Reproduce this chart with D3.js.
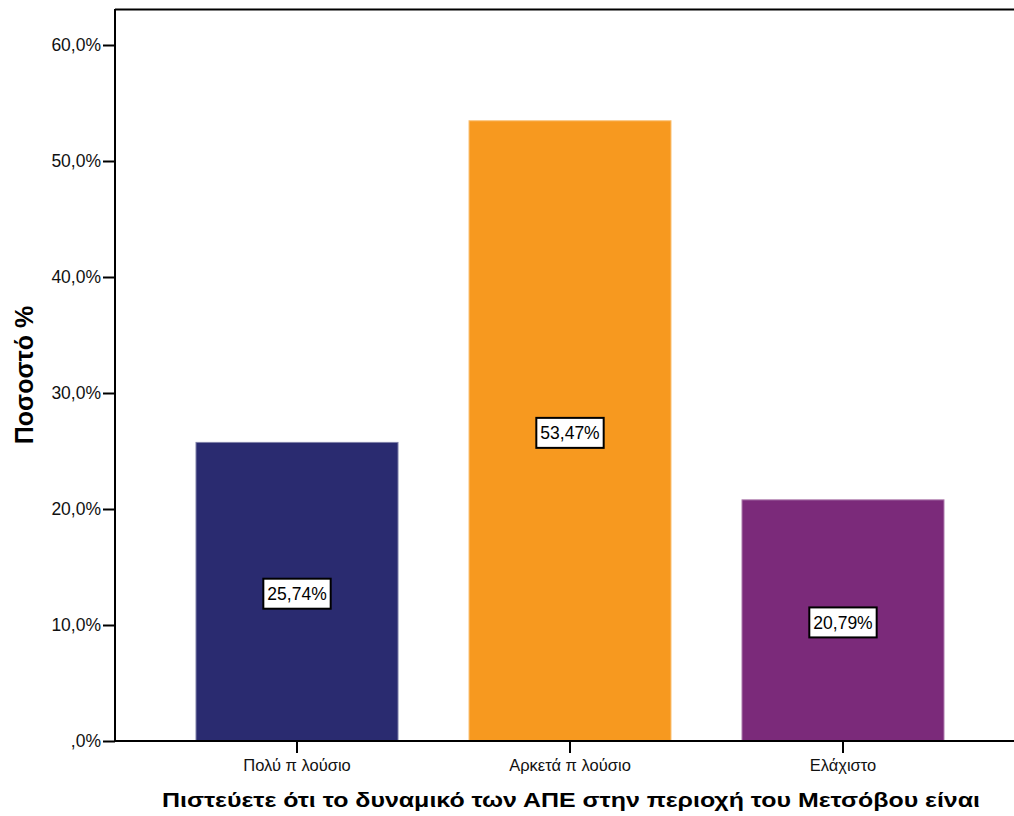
<!DOCTYPE html>
<html>
<head>
<meta charset="utf-8">
<script src="https://cdn.jsdelivr.net/npm/d3@7"></script>
<style>
  html, body { margin: 0; padding: 0; background: #fff; }
  svg { display: block; font-family: "Liberation Sans", Arial, sans-serif; }
</style>
</head>
<body>
<svg id="chart" width="1014" height="816"></svg>
<script>
// Responses: "Το δυναμικό των ΑΠΕ στην περιοχή του Μετσόβου"
const categories = ["Πολύ π λούσιο", "Αρκετά π λούσιο", "Ελάχιστο"];
const percents = [25.74, 53.47, 20.79];
const barColors = ["#2a2b70", "#f7991f", "#7b2a7a"];
const yTicks = [0, 10, 20, 30, 40, 50, 60];
const yTitle = "Ποσοστό %";
const xTitle = "Πιστεύετε ότι το δυναμικό των ΑΠΕ στην περιοχή του Μετσόβου είναι";

const fmtTick = v => (v === 0 ? ",0%" : d3.format(".1f")(v).replace(".", ",") + "%");
const fmtLabel = v => d3.format(".2f")(v).replace(".", ",") + "%";

const svg = d3.select("#chart");
const plot = { left: 115, right: 1025, top: 9, bottom: 741 };

const x = d3.scaleBand()
  .domain(categories)
  .range([plot.left, plot.right])
  .paddingInner(0.26)
  .paddingOuter(0.2967);

const y = d3.scaleLinear()
  .domain([0, 60])
  .range([plot.bottom, 45]);

// frame: top edge
svg.append("line")
  .attr("x1", plot.left).attr("x2", plot.right)
  .attr("y1", plot.top + 0.5).attr("y2", plot.top + 0.5)
  .attr("stroke", "#000").attr("stroke-width", 2);

// bars
svg.append("g").selectAll("rect")
  .data(percents)
  .join("rect")
  .attr("x", (d, i) => x(categories[i]))
  .attr("y", d => y(d))
  .attr("width", x.bandwidth())
  .attr("height", d => y(0) - y(d))
  .attr("fill", (d, i) => barColors[i])
  .attr("stroke", (d, i) => d3.interpolateRgb(barColors[i], "#fff")(0.4))
  .attr("stroke-width", 1);

// y axis
const yAxis = svg.append("g")
  .attr("transform", `translate(${plot.left},0)`)
  .call(d3.axisLeft(y).tickValues(yTicks).tickFormat(fmtTick).tickSize(12).tickPadding(2));
yAxis.select(".domain").attr("d", `M0,${plot.top}V${plot.bottom}`).attr("stroke-width", 2);
yAxis.selectAll(".tick line").attr("stroke-width", 2);
yAxis.selectAll(".tick text")
  .attr("font-size", 17.5).attr("font-family", "Liberation Sans, Arial, sans-serif").attr("fill", "#111");

// x axis
const xAxis = svg.append("g")
  .attr("transform", `translate(0,${plot.bottom})`)
  .call(d3.axisBottom(x).tickSize(12).tickPadding(6));
xAxis.select(".domain").attr("d", `M${plot.left},0H${plot.right}`).attr("stroke-width", 2);
xAxis.selectAll(".tick line").attr("stroke-width", 2);
xAxis.selectAll(".tick text")
  .attr("font-size", 16.5).attr("font-family", "Liberation Sans, Arial, sans-serif").attr("fill", "#111");

// value labels centred on each bar
const labels = svg.append("g").selectAll("g")
  .data(percents)
  .join("g")
  .attr("transform", (d, i) => `translate(${x(categories[i]) + x.bandwidth() / 2},${(y(d) + y(0)) / 2 + 2})`);

labels.append("text")
  .attr("text-anchor", "middle")
  .attr("dy", "0.35em")
  .attr("font-size", 17.5)
  .attr("fill", "#000")
  .text(d => fmtLabel(d))
  .each(function () {
    const bb = this.getBBox();
    d3.select(this.parentNode).insert("rect", "text")
      .attr("x", bb.x - 4).attr("y", -15)
      .attr("width", bb.width + 8).attr("height", 30)
      .attr("fill", "#fff").attr("stroke", "#000").attr("stroke-width", 2);
  });

// axis titles
svg.append("text")
  .attr("transform", `translate(33,375) rotate(-90)`)
  .attr("text-anchor", "middle")
  .attr("font-size", 25).attr("font-weight", "bold")
  .text(yTitle);

svg.append("text")
  .attr("x", 571).attr("y", 807)
  .attr("text-anchor", "middle")
  .attr("font-size", 21).attr("font-weight", "bold")
  .attr("textLength", 818).attr("lengthAdjust", "spacingAndGlyphs")
  .text(xTitle);
</script>
</body>
</html>
